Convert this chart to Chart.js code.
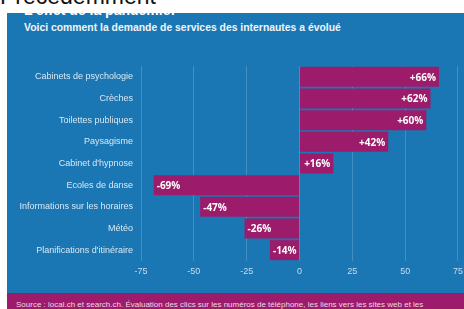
<!DOCTYPE html>
<html>
<head>
<meta charset="utf-8">
<script src="https://cdn.jsdelivr.net/npm/chart.js@4"></script>
<style>
  html, body { margin: 0; padding: 0; background: #fff; overflow: hidden; }
  body { width: 464px; height: 309px; position: relative; font-family: 'Liberation Sans', Arial, sans-serif; }
  .top { position: absolute; left: 0; top: -17px; font-size: 23px; color: #111; white-space: nowrap; }
  .panel { position: absolute; left: 7px; top: 13px; width: 457px; height: 280px; background: #1a77b4; overflow: hidden; }
  .title { position: absolute; left: 17px; top: -11px; font-size: 14px; font-weight: bold; color: #fff; white-space: nowrap; }
  .sub { position: absolute; left: 17px; top: 9px; font-size: 10.4px; font-weight: bold; color: #eef4fa; white-space: nowrap; }
  .foot { position: absolute; left: 7px; top: 293px; width: 457px; height: 16px; background: #9c1c6b; overflow: hidden; }
  .foot span { position: absolute; left: 9px; top: 7px; font-size: 8px; color: #f2d6e6; white-space: nowrap; }
  canvas { position: absolute; left: 0; top: 27px; }
</style>
</head>
<body>
<div class="top">Précédemment</div>
<div class="panel">
  <div class="title">L'effet de la pandémie:</div>
  <div class="sub">Voici comment la demande de services des internautes a évolué</div>
  <canvas id="myChart" width="461" height="253"></canvas>
</div>
<div class="foot"><span>Source : local.ch et search.ch. Évaluation des clics sur les numéros de téléphone, les liens vers les sites web et les</span></div>
<script>
const ctx = document.getElementById('myChart');

var labelData = ['Cabinets de psychologie', 'Crèches', 'Toilettes publiques', 'Paysagisme', "Cabinet d'hypnose",
  'Ecoles de danse', 'Informations sur les horaires', 'Météo', "Planifications d'itinéraire"];
var dataGroup = [66, 62, 60, 42, 16, -69, -47, -26, -14];
var tickValues = [-75, -50, -25, 0, 25, 50, 75];

// draws "+66%" / "-69%" inside the bar ends
const barLabels = {
  id: 'barLabels',
  afterDatasetsDraw(chart) {
    const c = chart.ctx;
    const meta = chart.getDatasetMeta(0);
    c.save();
    c.font = 'bold 10px "Open Sans", sans-serif';
    c.fillStyle = '#ffffff';
    c.textBaseline = 'middle';
    meta.data.forEach(function (bar, i) {
      var v = dataGroup[i];
      var txt = (v > 0 ? '+' : '') + v + '%';
      if (v >= 0) {
        c.textAlign = 'right';
        c.fillText(txt, bar.x - 3, bar.y + 1);
      } else {
        c.textAlign = 'left';
        c.fillText(txt, bar.x + 3, bar.y + 1);
      }
    });
    c.restore();
  }
};

new Chart(ctx, {
  type: 'bar',
  data: {
    labels: labelData,
    datasets: [{
      data: dataGroup,
      backgroundColor: '#9c1c6b',
      borderWidth: 0,
      barPercentage: 0.92,
      categoryPercentage: 1
    }]
  },
  options: {
    indexAxis: 'y',
    responsive: false,
    animation: false,
    layout: { padding: { top: 26, right: 4, left: 0, bottom: 0 } },
    plugins: {
      legend: { display: false },
      tooltip: { enabled: false }
    },
    scales: {
      x: {
        min: tickValues[0],
        max: tickValues[tickValues.length - 1],
        afterBuildTicks: function (axis) {
          axis.ticks = tickValues.map(function (v) { return { value: v }; });
        },
        afterFit: function (axis) { axis.height = 32; },
        grid: { color: 'rgba(255,255,255,0.18)', drawTicks: false },
        border: { display: false },
        ticks: {
          color: '#c9dded',
          padding: 5,
          font: { family: 'Liberation Sans', size: 9 }
        }
      },
      y: {
        afterFit: function (axis) { axis.width = 134; },
        grid: { display: false, drawTicks: false },
        border: { display: false },
        ticks: {
          color: '#d9e7f2',
          padding: 8,
          font: { family: 'Liberation Sans', size: 9 }
        }
      }
    }
  },
  plugins: [barLabels]
});
</script>
</body>
</html>
